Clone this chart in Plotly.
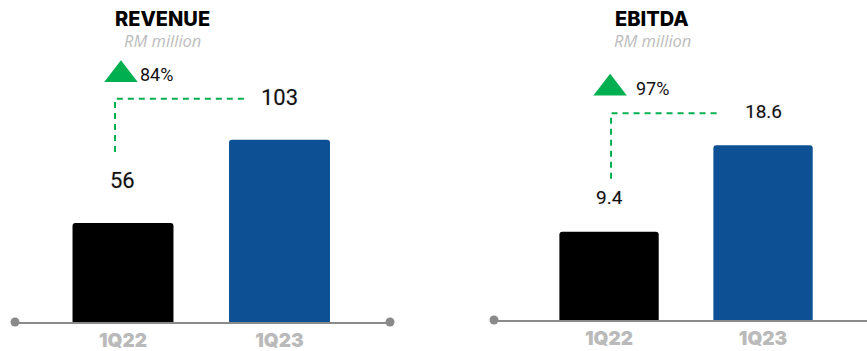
import plotly.graph_objects as go

# ---- data ----
categories = ["1Q22", "1Q23"]
revenue = [56, 103]
ebitda = [9.4, 18.6]
revenue_labels = ["56", "103"]
ebitda_labels = ["9.4", "18.6"]
growth_labels = ["84%", "97%"]
titles = ["REVENUE", "EBITDA"]
subtitle = "RM million"

W, H = 867, 351
bar_colors = ["#000000", "#0d5194"]
green = "#00b050"
axis_gray = "#8a8a8a"

fig = go.Figure()

# panel geometry (pixels)
panels = [
    dict(values=revenue, labels=revenue_labels, growth=growth_labels[0], title=titles[0],
         xd=(15, 390), base=322, ppu=1.77, xr=(-0.690, 1.706), xa="x", ya="y",
         title_x=162, lab_shift=42, vert_x=-0.051, hline_gap=41, vline_bottom_gap=29,
         h_end=0.80, tri_dx=0.038, tri_up=24, pct_dx=0.153, dots=2, lab_size=22),
    dict(values=ebitda, labels=ebitda_labels, growth=growth_labels[1], title=titles[1],
         xd=(494, 867), base=320, ppu=9.4, xr=(-0.747, 1.675), xa="x2", ya="y2",
         title_x=652, lab_shift=34, vert_x=0.013, hline_gap=32, vline_bottom_gap=19,
         h_end=0.71, tri_dx=-0.006, tri_up=25, pct_dx=0.156, dots=1, lab_size=19),
]

for i, p in enumerate(panels):
    n = "" if i == 0 else str(i + 1)
    ymax = p["base"] / p["ppu"]
    fig.update_layout(**{
        f"xaxis{n}": dict(domain=[p["xd"][0] / W, p["xd"][1] / W], range=list(p["xr"]),
                          showline=True, linecolor=axis_gray, linewidth=2, showgrid=False,
                          zeroline=False, ticks="", anchor=f"y{n}", automargin=False,
                          tickvals=[0, 1], ticktext=categories, ticklabelstandoff=0,
                          tickfont=dict(family="Inter", size=19, color="#bababa", weight=900),
                          fixedrange=True),
        f"yaxis{n}": dict(domain=[(H - p["base"]) / H, 1], range=[0, ymax], visible=False,
                          anchor=f"x{n}", fixedrange=True, automargin=False),
    })
    fig.add_trace(go.Bar(x=[0, 1], y=p["values"], width=0.645, marker_color=bar_colors,
                         marker_line_width=0, xaxis=p["xa"], yaxis=p["ya"], showlegend=False))
    # end dots of axis line
    dx = [p["xr"][0], p["xr"][1]][: p["dots"]]
    fig.add_trace(go.Scatter(x=dx, y=[0] * len(dx), mode="markers", cliponaxis=False,
                             marker=dict(color=axis_gray, size=9), xaxis=p["xa"], yaxis=p["ya"],
                             showlegend=False, hoverinfo="skip"))
    v1, v2 = p["values"]
    k = 1 / p["ppu"]
    y_h = v2 + p["hline_gap"] * k
    y_vb = v1 + (p["lab_shift"] + p["vline_bottom_gap"]) * k
    # dashed connector
    fig.add_trace(go.Scatter(x=[p["vert_x"], p["vert_x"], p["h_end"]], y=[y_vb, y_h, y_h],
                             mode="lines", line=dict(color=green, width=2, dash="6px,5px"),
                             xaxis=p["xa"], yaxis=p["ya"], showlegend=False, hoverinfo="skip"))
    # triangle
    fig.add_trace(go.Scatter(x=[p["vert_x"] + p["tri_dx"]], y=[y_h + p["tri_up"] * k], mode="markers",
                             marker=dict(symbol="triangle-up", size=29, color=green, line_width=0),
                             xaxis=p["xa"], yaxis=p["ya"], showlegend=False, hoverinfo="skip",
                             cliponaxis=False))
    fig.add_annotation(x=p["vert_x"] + p["pct_dx"], y=y_h + p["tri_up"] * k, xref=p["xa"], yref=p["ya"],
                       text=p["growth"], showarrow=False, xanchor="left", borderpad=0,
                       font=dict(family="Roboto", size=18, color="#111111"))
    # value labels
    for xi, (v, lab) in enumerate(zip(p["values"], p["labels"])):
        fig.add_annotation(x=xi, y=v, xref=p["xa"], yref=p["ya"], text=lab, showarrow=False,
                           yshift=p["lab_shift"], xanchor="center",
                           font=dict(family="Roboto", size=p["lab_size"], color="#111111",
                                     shadow="0px 0px 2px #c8c8c8"))
    # titles
    fig.add_annotation(x=p["title_x"] / W, y=1 - 19 / H, xref="paper", yref="paper",
                       text=p["title"], showarrow=False, xanchor="center", yanchor="middle",
                       font=dict(family="Inter", size=20, color="#000000", weight=800))
    fig.add_annotation(x=p["title_x"] / W, y=1 - 41 / H, xref="paper", yref="paper",
                       text=subtitle, showarrow=False, xanchor="center", yanchor="middle",
                       font=dict(family="Open Sans", size=16.5, color="#bdbdbd", style="italic"))

fig.update_layout(width=W, height=H, margin=dict(l=0, r=0, t=0, b=0),
                  paper_bgcolor="white", plot_bgcolor="white", barcornerradius=3,
                  showlegend=False)

fig.write_html("out.html", config={"displayModeBar": False})
